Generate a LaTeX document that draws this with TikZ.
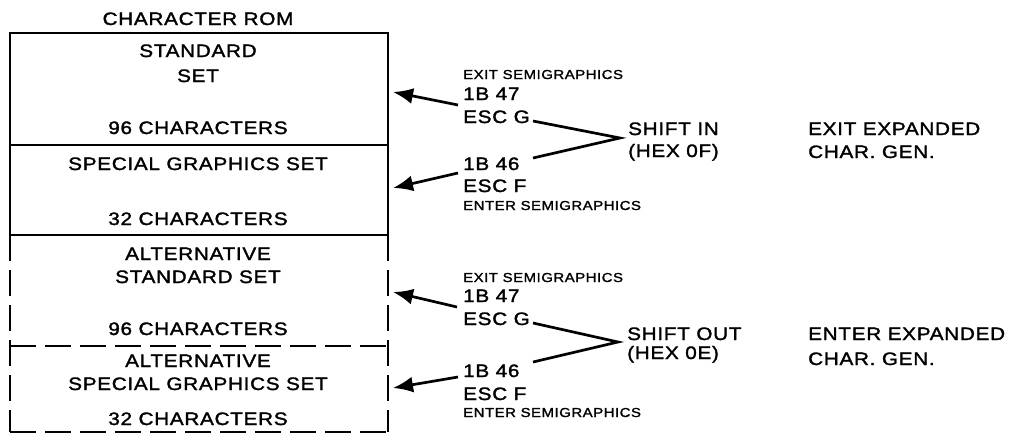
\documentclass[tikz,border=0pt]{standalone}
\usepackage{fontspec}
\setmainfont{Liberation Sans}[FakeStretch=1.15,LetterSpace=4,FakeBold=1.6]
\usetikzlibrary{arrows.meta}
\begin{document}
\begin{tikzpicture}[x=1pt,y=-1pt,
  lbl/.style={font=\fontsize{18}{20}\selectfont, inner sep=0pt, anchor=base},
  lblw/.style={lbl, anchor=base west},
  small/.style={font=\fontsize{13}{15}\selectfont, inner sep=0pt, anchor=base west},
  box/.style={draw, line width=2.7pt, minimum width=378pt, inner sep=0pt},
  area/.style={minimum width=378pt, inner sep=0pt, outer sep=0pt},
  dl/.style={line width=2.7pt, dash pattern=on 26pt off 9pt},
  arr/.style={line width=2.7pt, -{Latex[length=20pt,width=16pt]}},
  ln/.style={line width=2.7pt}
]
\useasboundingbox (0,0) rectangle (1016,434);

% alternative (dashed) areas
\node[area, minimum height=111pt] (astd) at (199,290.5) {};
\node[area, minimum height=86pt] (aspc) at (199,389) {};
\draw[dl] (astd.north west) -- (aspc.south west);
\draw[dl] (astd.north east) -- (aspc.south east);
\draw[dl] (astd.south west) -- (astd.south east);
\draw[dl] (aspc.south west) -- (aspc.south east);
% solid boxes
\node[box, minimum height=112pt] (std) at (199,89) {};
\node[box, minimum height=90pt] (spc) at (199,190) {};

% box texts
\node[lbl] (title) at (198,25) {CHARACTER ROM};
\node[lbl] (t1) at (198,57) {STANDARD};
\node[lbl] (t2) at (198,82) {SET};
\node[lbl] (t3) at (198,134) {96 CHARACTERS};
\node[lbl] (t4) at (198,170) {SPECIAL GRAPHICS SET};
\node[lbl] (t5) at (198,225) {32 CHARACTERS};
\node[lbl] (t6) at (198,260) {ALTERNATIVE};
\node[lbl] (t7) at (198,283) {STANDARD SET};
\node[lbl] (t8) at (198,335) {96 CHARACTERS};
\node[lbl] (t9) at (198,367) {ALTERNATIVE};
\node[lbl] (t10) at (198,390) {SPECIAL GRAPHICS SET};
\node[lbl] (t11) at (198,425) {32 CHARACTERS};

% top group
\node[small] (ex1) at (463,79) {EXIT SEMIGRAPHICS};
\node[lblw] (ba1) at (463,100) {1B 47};
\node[lblw] (eg1) at (463,123) {ESC G};
\node[lblw] (si) at (628,135) {SHIFT IN};
\node[lblw] (hx1) at (628,157) {(HEX 0F)};
\node[lblw] (bb1) at (463,170) {1B 46};
\node[lblw] (ef1) at (463,192) {ESC F};
\node[small] (en1) at (463,210) {ENTER SEMIGRAPHICS};
\node[lblw] (xe) at (808,135) {EXIT EXPANDED};
\node[lblw] (cg1) at (808,158) {CHAR. GEN.};

% bottom group
\node[small] (ex2) at (463,282) {EXIT SEMIGRAPHICS};
\node[lblw] (ba2) at (463,302) {1B 47};
\node[lblw] (eg2) at (463,325) {ESC G};
\node[lblw] (so) at (627,340) {SHIFT OUT};
\node[lblw] (hx2) at (627,359) {(HEX 0E)};
\node[lblw] (bb2) at (463,377) {1B 46};
\node[lblw] (ef2) at (463,400) {ESC F};
\node[small] (en2) at (463,417) {ENTER SEMIGRAPHICS};
\node[lblw] (ee) at (808,340) {ENTER EXPANDED};
\node[lblw] (cg2) at (808,365) {CHAR. GEN.};

% connector points
\coordinate (j1) at (620,138);
\coordinate (g1) at (533,121);
\coordinate (f1) at (533,158);
\coordinate (j2) at (618,342);
\coordinate (g2) at (533,323);
\coordinate (f2) at (533,362);
\coordinate (ta1) at (458,105);
\coordinate (pa1) at (393,92);
\coordinate (ta2) at (458,173);
\coordinate (pa2) at (393,188);
\coordinate (ta3) at (457,307);
\coordinate (pa3) at (393,292);
\coordinate (ta4) at (458,377);
\coordinate (pa4) at (393,388);

\draw[ln] (g1) -- (j1) -- (f1);
\draw[ln] (g2) -- (j2) -- (f2);
\draw[arr] (ta1) -- (pa1);
\draw[arr] (ta2) -- (pa2);
\draw[arr] (ta3) -- (pa3);
\draw[arr] (ta4) -- (pa4);
\end{tikzpicture}
\end{document}
